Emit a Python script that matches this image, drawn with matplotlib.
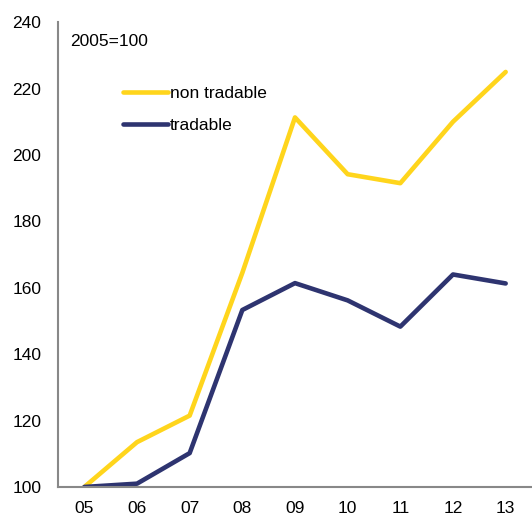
import matplotlib
matplotlib.use('Agg')
import matplotlib.pyplot as plt

years = ["05", "06", "07", "08", "09", "10", "11", "12", "13"]
non_tradable = [100, 113.5, 121.5, 164.5, 211.3, 194.2, 191.5, 210.0, 225.0]
tradable = [100, 101.0, 110.2, 153.3, 161.4, 156.2, 148.3, 164.0, 161.3]

yellow = "#FFD51C"
navy = "#2E3470"

plt.rcParams['font.family'] = ['Liberation Sans', 'DejaVu Sans']

fig = plt.figure(figsize=(5.32, 5.15), dpi=100)
ax = fig.add_axes([0.109, 0.0544, 0.891, 0.9026])

x = range(len(years))
ax.plot(x, non_tradable, color=yellow, lw=3.3, label="non tradable", solid_capstyle='round')
ax.plot(x, tradable, color=navy, lw=3.3, label="tradable", solid_capstyle='round')

ax.set_xlim(-0.5, 8.5)
ax.set_ylim(100, 240)
ax.set_yticks(range(100, 241, 20))
ax.set_xticks(list(x))
ax.set_xticklabels(years)
ax.tick_params(length=0, labelsize=12.5, pad=10)
ax.tick_params(axis='y', pad=12)

for s in ['top', 'right']:
    ax.spines[s].set_visible(False)
for s in ['left', 'bottom']:
    ax.spines[s].set_color('#888888')
    ax.spines[s].set_linewidth(1.5)

ax.text(0.025, 0.975, "2005=100", transform=ax.transAxes, fontsize=12.5, va='top', ha='left')

ax.legend(loc='upper left', bbox_to_anchor=(0.122, 0.878), frameon=False, fontsize=12.5,
          handlelength=2.6, handletextpad=0.1, labelspacing=0.95, borderaxespad=0)

fig.savefig('out.png', dpi=100)
